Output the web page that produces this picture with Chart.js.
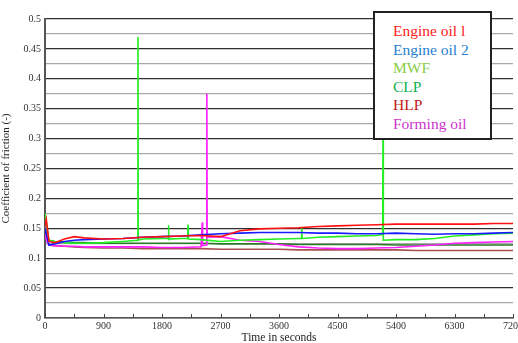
<!DOCTYPE html>
<html>
<head>
<meta charset="utf-8">
<script src="https://cdn.jsdelivr.net/npm/chart.js@4/dist/chart.umd.min.js"></script>
<style>
  html, body { margin: 0; padding: 0; background: #fff; }
  #wrap { position: relative; width: 518px; height: 343px; }
  #legendBox {
    position: absolute; left: 373px; top: 11px; width: 119px; height: 129px;
    border: 2px solid #222; background: #fff; box-sizing: border-box;
    font-family: "Liberation Serif", serif; font-size: 15.5px; line-height: 18.6px;
    padding: 9px 0 0 18px;
  }
</style>
</head>
<body>
<div id="wrap">
  <canvas id="friction-chart" width="518" height="343"></canvas>
  <div id="legendBox"></div>
</div>
<script>
  // sample times (s) and friction coefficients
  const baseTimes = [0, 20, 60, 150, 300, 450, 600, 900, 1200, 1500, 1800, 2100, 2400, 2700, 3000, 3300, 3600, 3900, 4200, 4500, 4800, 5100, 5400, 5700, 6000, 6300, 6600, 6900, 7200];

  const engineOil1 = [0.155, 0.165, 0.128, 0.126, 0.132, 0.136, 0.134, 0.132, 0.133, 0.135, 0.136, 0.137, 0.138, 0.136, 0.146, 0.149, 0.150, 0.151, 0.153, 0.154, 0.155, 0.156, 0.157, 0.157, 0.157, 0.157, 0.157, 0.158, 0.158];
  const engineOil2 = [0.150, 0.140, 0.122, 0.124, 0.128, 0.130, 0.131, 0.132, 0.133, 0.135, 0.136, 0.137, 0.139, 0.141, 0.142, 0.143, 0.143, 0.143, 0.142, 0.142, 0.141, 0.141, 0.142, 0.141, 0.140, 0.141, 0.141, 0.142, 0.143];
  const clp = [0.130, 0.135, 0.130, 0.128, 0.127, 0.126, 0.126, 0.125, 0.125, 0.125, 0.125, 0.125, 0.125, 0.124, 0.124, 0.124, 0.124, 0.123, 0.123, 0.123, 0.123, 0.123, 0.122, 0.122, 0.122, 0.122, 0.122, 0.122, 0.122];
  const hlp = [0.160, 0.140, 0.122, 0.121, 0.120, 0.119, 0.118, 0.117, 0.117, 0.116, 0.116, 0.116, 0.116, 0.115, 0.115, 0.115, 0.115, 0.114, 0.114, 0.114, 0.114, 0.114, 0.114, 0.113, 0.113, 0.113, 0.113, 0.113, 0.113];

  // MWF and forming oil have their own sampling (spikes)
  const mwfTimes = [0, 20, 60, 150, 300, 450, 600, 900, 1200, 1425, 1430, 1435, 1500, 1800, 1895, 1900, 1905, 2100, 2195, 2200, 2205, 2400, 2700, 3000, 3300, 3600, 3900, 3945, 3950, 3955, 4200, 4500, 4800, 5100, 5195, 5200, 5205, 5400, 5700, 6000, 6300, 6600, 6900, 7200];
  const mwf = [0.175, 0.160, 0.130, 0.128, 0.126, 0.125, 0.125, 0.126, 0.128, 0.130, 0.470, 0.130, 0.132, 0.133, 0.133, 0.155, 0.132, 0.133, 0.133, 0.156, 0.132, 0.131, 0.128, 0.130, 0.131, 0.132, 0.133, 0.133, 0.152, 0.133, 0.135, 0.136, 0.137, 0.138, 0.140, 0.300, 0.130, 0.131, 0.131, 0.133, 0.137, 0.139, 0.141, 0.142];
  const formingTimes = [0, 20, 60, 150, 300, 450, 600, 900, 1200, 1500, 1800, 2100, 2400, 2415, 2420, 2425, 2485, 2490, 2495, 2700, 3000, 3300, 3600, 3900, 4200, 4500, 4800, 5100, 5400, 5700, 6000, 6300, 6600, 6900, 7200];
  const formingOil = [0.140, 0.130, 0.122, 0.121, 0.120, 0.120, 0.119, 0.119, 0.119, 0.119, 0.118, 0.118, 0.119, 0.119, 0.160, 0.121, 0.122, 0.375, 0.135, 0.136, 0.130, 0.128, 0.123, 0.119, 0.117, 0.116, 0.116, 0.117, 0.118, 0.120, 0.122, 0.125, 0.126, 0.127, 0.128];

  const seriesNames = ['Engine oil l', 'Engine oil 2', 'MWF', 'CLP', 'HLP', 'Forming oil'];
  const lineColors = ['#ff1010', '#1a1aff', '#22ee22', '#2a7a2a', '#a85050', '#ff20ff'];
  const legendColors = ['#ff2020', '#1f7fd0', '#88cc44', '#10b050', '#c01818', '#cc33cc'];

  const xTicks = [0, 900, 1800, 2700, 3600, 4500, 5400, 6300, 7200];

  function pairs(ts, vs) {
    return ts.map((t, i) => ({ x: t, y: vs[i] }));
  }

  const allData = [
    pairs(baseTimes, engineOil1),
    pairs(baseTimes, engineOil2),
    pairs(mwfTimes, mwf),
    pairs(baseTimes, clp),
    pairs(baseTimes, hlp),
    pairs(formingTimes, formingOil),
  ];
  const drawOrder = [1, 2, 3, 5, 6, 4];

  const legendBox = document.getElementById('legendBox');
  seriesNames.forEach((n, i) => {
    const d = document.createElement('div');
    d.textContent = n;
    d.style.color = legendColors[i];
    legendBox.appendChild(d);
  });

  // small inward tick marks on the time axis
  const innerTicks = {
    id: 'innerTicks',
    afterDraw(chart) {
      const ctx = chart.ctx;
      const xs = chart.scales.x;
      const bottom = chart.chartArea.bottom;
      ctx.save();
      ctx.strokeStyle = '#444';
      ctx.lineWidth = 1;
      for (let t = 0; t <= 7200; t += 450) {
        const px = Math.round(xs.getPixelForValue(t)) + 0.5;
        ctx.beginPath();
        ctx.moveTo(px, bottom);
        ctx.lineTo(px, bottom - 4);
        ctx.stroke();
      }
      ctx.restore();
    }
  };

  const serif = 'Liberation Serif';

  new Chart(document.getElementById('friction-chart').getContext('2d'), {
    type: 'line',
    data: {
      datasets: allData.map((d, i) => ({
        label: seriesNames[i],
        data: d,
        borderColor: lineColors[i],
        borderWidth: 1.6,
        pointRadius: 0,
        tension: 0,
        fill: false,
        order: drawOrder[i],
      })),
    },
    options: {
      responsive: false,
      animation: false,
      events: [],
      layout: { padding: { top: 19, right: 5, left: 0, bottom: 0 } },
      plugins: { legend: { display: false }, tooltip: { enabled: false } },
      scales: {
        x: {
          type: 'linear',
          min: 0,
          max: 7200,
          afterBuildTicks: (s) => { s.ticks = xTicks.map(v => ({ value: v })); },
          afterFit: (s) => { s.height = 25; s.paddingRight = 0; },
          ticks: { color: '#333', font: { family: serif, size: 10 }, padding: 2, maxRotation: 0, callback: (v) => String(v) },
          grid: { drawOnChartArea: false, drawTicks: false },
          border: { color: '#555', width: 1.5 },
          title: { display: true, text: 'Time in seconds', color: '#222', font: { family: serif, size: 11.5 }, padding: { top: 2, bottom: -2 } },
        },
        y: {
          min: 0,
          max: 0.5,
          afterFit: (s) => { s.width = 45; },
          ticks: {
            stepSize: 0.025,
            autoSkip: false,
            color: '#333',
            font: { family: serif, size: 10 },
            padding: 4,
            callback: (v, i) => (i % 2 ? '' : String(Number(v.toFixed(3)))),
          },
          grid: {
            drawTicks: false,
            color: (c) => (c.index % 2 ? '#a8a8a8' : '#303030'),
            lineWidth: 1.3,
          },
          border: { color: '#555', width: 2 },
          title: { display: true, text: 'Coefficient of friction (-)', color: '#222', font: { family: serif, size: 11 }, padding: { top: 0, bottom: 2 } },
        },
      },
    },
    plugins: [innerTicks],
  });
</script>
</body>
</html>
